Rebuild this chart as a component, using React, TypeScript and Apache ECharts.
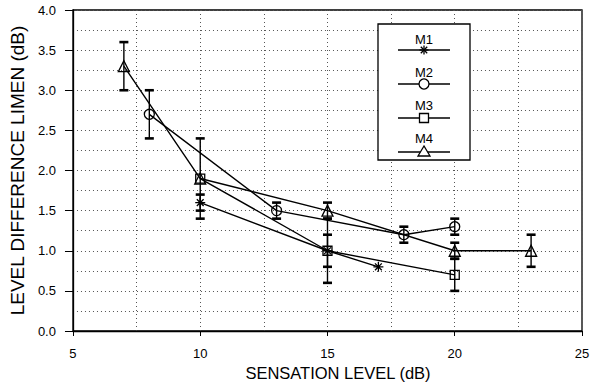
import React, { useEffect, useRef } from "react";
import * as echarts from "echarts";

const seriesNames = ["M1", "M2", "M3", "M4"];

const m1X = [10, 15, 17];
const m1Y = [1.6, 1.0, 0.8];
const m1Low = [1.5, 0.6, null];
const m1High = [1.7, 1.4, null];

const m2X = [8, 13, 18, 20];
const m2Y = [2.7, 1.5, 1.2, 1.3];
const m2Low = [2.4, 1.4, 1.1, 1.2];
const m2High = [3.0, 1.6, 1.3, 1.4];

const m3X = [10, 15, 20];
const m3Y = [1.9, 1.0, 0.7];
const m3Low = [null, 0.8, 0.5];
const m3High = [null, 1.2, 0.9];

const m4X = [7, 10, 15, 20, 23];
const m4Y = [3.3, 1.9, 1.5, 1.0, 1.0];
const m4Low = [3.0, 1.4, 1.4, 0.9, 0.8];
const m4High = [3.6, 2.4, 1.6, 1.1, 1.2];

const xTitle = "SENSATION LEVEL (dB)";
const yTitle = "LEVEL DIFFERENCE LIMEN (dB)";

const FONT = "'Liberation Sans', Arial, Helvetica, sans-serif";
const STAR = "path://M5,0L5,10M0,5L10,5M1.6,1.6L8.4,8.4M1.6,8.4L8.4,1.6";
const symbols = [STAR, "circle", "rect", "triangle"];

function lineSeries(name: string, xs: number[], ys: number[], symbol: string) {
  return {
    name,
    type: "line",
    data: xs.map((x, i) => [x, ys[i]]),
    symbol,
    symbolSize: symbol === "rect" ? 9 : symbol === "triangle" ? 11 : 10,
    showSymbol: true,
    lineStyle: { color: "#000", width: 1.4 },
    itemStyle: { color: "transparent", borderColor: "#000", borderWidth: 1.3 },
    z: 3,
    silent: true,
  };
}

function errSeries(xs: number[], lows: (number | null)[], highs: (number | null)[]) {
  const data: number[][] = [];
  xs.forEach((x, i) => {
    if (lows[i] != null && highs[i] != null) data.push([x, lows[i] as number, highs[i] as number]);
  });
  return {
    type: "custom",
    data,
    encode: { x: 0, y: [1, 2] },
    z: 2,
    silent: true,
    renderItem: (_params: any, api: any) => {
      const x = api.value(0);
      const p1 = api.coord([x, api.value(1)]);
      const p2 = api.coord([x, api.value(2)]);
      const w = 4.5;
      return {
        type: "group",
        children: [
          { type: "line", shape: { x1: p1[0], y1: p1[1], x2: p2[0], y2: p2[1] }, style: { stroke: "#000", lineWidth: 1.4 } },
          { type: "line", shape: { x1: p1[0] - w, y1: p1[1], x2: p1[0] + w, y2: p1[1] }, style: { stroke: "#000", lineWidth: 2.6 } },
          { type: "line", shape: { x1: p2[0] - w, y1: p2[1], x2: p2[0] + w, y2: p2[1] }, style: { stroke: "#000", lineWidth: 2.6 } },
        ],
      };
    },
  };
}

function legendGraphics() {
  const boxX = 378, boxY = 24, boxW = 92, boxH = 136;
  const cx = boxX + boxW / 2;
  const els: any[] = [
    { type: "rect", shape: { x: boxX, y: boxY, width: boxW, height: boxH }, style: { fill: "#fff", stroke: "#000", lineWidth: 1.3 }, z: 100 },
  ];
  seriesNames.forEach((nm, i) => {
    const ty = 39 + i * 33;
    const ly = 50 + i * 34;
    els.push({ type: "text", x: cx, y: ty, style: { text: nm, font: `13px ${FONT}`, fill: "#000", align: "center", verticalAlign: "middle" }, z: 101 });
    els.push({ type: "line", shape: { x1: cx - 26, y1: ly, x2: cx + 26, y2: ly }, style: { stroke: "#000", lineWidth: 1.3 }, z: 101 });
    const st = { fill: "#fff", stroke: "#000", lineWidth: 1.3 };
    if (i === 0) {
      const r = 4.5, d = 3.2;
      [[0, -r, 0, r], [-r, 0, r, 0], [-d, -d, d, d], [-d, d, d, -d]].forEach((s) =>
        els.push({ type: "line", shape: { x1: cx + s[0], y1: ly + s[1], x2: cx + s[2], y2: ly + s[3] }, style: { stroke: "#000", lineWidth: 1.3 }, z: 102 })
      );
    } else if (i === 1) {
      els.push({ type: "circle", shape: { cx, cy: ly, r: 5 }, style: st, z: 102 });
    } else if (i === 2) {
      els.push({ type: "rect", shape: { x: cx - 4.5, y: ly - 4.5, width: 9, height: 9 }, style: st, z: 102 });
    } else {
      els.push({ type: "polygon", shape: { points: [[cx, ly - 6], [cx - 6, ly + 4], [cx + 6, ly + 4]] }, style: st, z: 102 });
    }
  });
  els.push({
    type: "text",
    x: 338,
    y: 373,
    style: { text: xTitle, font: `16.5px ${FONT}`, fill: "#000", align: "center", verticalAlign: "middle" },
    z: 50,
  });
  return els;
}

const dotted = { type: [1, 3], color: "#555", width: 1 };

export default function App() {
  const ref = useRef<HTMLDivElement>(null);
  useEffect(() => {
    if (!ref.current) return;
    const chart = echarts.init(ref.current, undefined, { renderer: "svg" });
    chart.setOption({
      animation: false,
      backgroundColor: "#fff",
      textStyle: { fontFamily: FONT },
      grid: { left: 71, right: 18, top: 10, bottom: 55, show: true, borderColor: "#000", borderWidth: 1.3, backgroundColor: "transparent" },
      xAxis: {
        type: "value",
        min: 5,
        max: 25,
        interval: 5,
        axisLine: { show: true, lineStyle: { color: "#000", width: 1.3 } },
        axisTick: { show: true, length: 5, lineStyle: { color: "#000" } },
        axisLabel: { fontSize: 13, color: "#000", margin: 16, fontFamily: FONT },
        splitLine: { show: true, lineStyle: dotted },
        minorTick: { show: false, splitNumber: 2 },
        minorSplitLine: { show: true, lineStyle: dotted },
      },
      yAxis: {
        type: "value",
        min: 0,
        max: 4,
        interval: 0.5,
        name: yTitle,
        nameLocation: "middle",
        nameGap: 36,
        nameTextStyle: { fontSize: 19, color: "#000", fontFamily: FONT },
        axisLine: { show: true, lineStyle: { color: "#000", width: 1.3 } },
        axisTick: { show: true, length: 8, lineStyle: { color: "#000" } },
        axisLabel: { fontSize: 13, color: "#000", margin: 17, fontFamily: FONT, formatter: (v: number) => v.toFixed(1) },
        splitLine: { show: true, lineStyle: dotted },
        minorTick: { show: false, splitNumber: 2 },
        minorSplitLine: { show: true, lineStyle: dotted },
      },
      series: [
        errSeries(m1X, m1Low, m1High),
        errSeries(m2X, m2Low, m2High),
        errSeries(m3X, m3Low, m3High),
        errSeries(m4X, m4Low, m4High),
        lineSeries(seriesNames[0], m1X, m1Y, symbols[0]),
        lineSeries(seriesNames[1], m2X, m2Y, symbols[1]),
        lineSeries(seriesNames[2], m3X, m3Y, symbols[2]),
        lineSeries(seriesNames[3], m4X, m4Y, symbols[3]),
      ],
      graphic: legendGraphics(),
    });
    return () => chart.dispose();
  }, []);
  return <div ref={ref} style={{ position: "absolute", left: 0, top: 0, width: 600, height: 386 }} />;
}
